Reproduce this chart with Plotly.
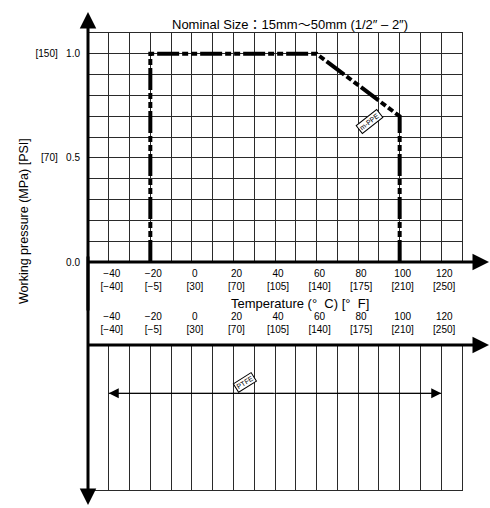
import plotly.graph_objects as go

# ---- data ----
pp_temp = [-20, -20, 60, 100, 100]          # °C
pp_pressure = [0.0, 1.0, 1.0, 0.7, 0.0]     # MPa
ptfe_temp = [-40, 120]                      # °C range
ptfe_level = 2
x_tickvals = [-40, -20, 0, 20, 40, 60, 80, 100, 120]
x_ticktext = ["−40<br>[−40]", "−20<br>[−5]", "0<br>[30]", "20<br>[70]", "40<br>[105]",
              "60<br>[140]", "80<br>[175]", "100<br>[210]", "120<br>[250]"]
y_tickvals = [0.0, 0.5, 1.0]
y_ticktext = ["0.0", "[70]\u00a0\u00a0\u00a00.5", "[150]\u00a0\u00a0\u00a01.0"]

W, H = 490, 508
FONT = "Liberation Sans, Arial, Noto Sans CJK JP, sans-serif"
GRID = "#2a2a2a"

def px_x(p):
    return p / W

def px_y(p):
    return (H - p) / H

fig = go.Figure()

fig.add_trace(go.Scatter(
    x=pp_temp, y=pp_pressure, mode="lines",
    line=dict(color="black", width=4, dash="22px,3px,6px,3px,6px,3px"),
    xaxis="x", yaxis="y", hoverinfo="skip"))

fig.add_trace(go.Scatter(
    x=ptfe_temp, y=[ptfe_level, ptfe_level], mode="lines",
    line=dict(color="black", width=1),
    xaxis="x2", yaxis="y2", hoverinfo="skip"))

xdom = [px_x(88), px_x(462)]
common_x = dict(range=[-50, 130], domain=xdom, showgrid=True, gridcolor=GRID, gridwidth=1,
                zeroline=False, showline=True, mirror=True, linecolor=GRID, linewidth=1,
                tickmode="array", tickvals=x_tickvals, ticktext=x_ticktext, ticks="",
                tickfont=dict(family=FONT, size=10, color="black"),
                minor=dict(dtick=10, tick0=-50, showgrid=True, gridcolor=GRID, gridwidth=1),
                automargin=False, fixedrange=True)

fig.update_layout(
    width=W, height=H, margin=dict(l=0, r=0, t=0, b=0, pad=0),
    paper_bgcolor="white", plot_bgcolor="white", showlegend=False,
    xaxis=dict(**common_x, anchor="y", side="bottom", ticklabelstandoff=2, ticklabelshift=3),
    yaxis=dict(range=[0, 1.1], domain=[px_y(262), px_y(33)], anchor="x",
               showgrid=True, gridcolor=GRID, gridwidth=1, zeroline=False,
               showline=True, mirror=True, linecolor=GRID, linewidth=1,
               tickmode="array", tickvals=y_tickvals, ticktext=y_ticktext, ticks="",
               tickfont=dict(family=FONT, size=10, color="black"),
               minor=dict(dtick=0.1, tick0=0, showgrid=True, gridcolor=GRID, gridwidth=1),
               ticklabelstandoff=5, automargin=False, fixedrange=True),
    xaxis2=dict(**common_x, anchor="y2", side="top", ticklabelstandoff=7, ticklabelshift=3),
    yaxis2=dict(range=[0, 3], domain=[px_y(490), px_y(345)], anchor="x2",
                showgrid=False, zeroline=False, showline=True, mirror=True,
                linecolor=GRID, linewidth=1, showticklabels=False, ticks="",
                automargin=False, fixedrange=True),
)

ann = []
# title
ann.append(dict(text="Nominal Size：15mm～50mm (1/2″ – 2″)", xref="paper", yref="paper",
                x=px_x(290), y=px_y(15), showarrow=False,
                font=dict(family=FONT, size=13, color="black")))
# y title
ann.append(dict(text="Working pressure (MPa) [PSI]", xref="paper", yref="paper",
                x=px_x(15), y=px_y(136), showarrow=False, textangle=-90,
                font=dict(family=FONT, size=12.5, color="black")))
# x title
ann.append(dict(text="Temperature (°\u00a0\u00a0C) [°\u00a0\u00a0F]", xref="paper", yref="paper",
                x=px_x(300), y=px_y(303), showarrow=False,
                font=dict(family=FONT, size=13, color="black")))

# axis arrows (thick black)
arrow_style = dict(showarrow=True, arrowhead=2, arrowsize=1.1, arrowwidth=3,
                   arrowcolor="black", text="")
# vertical axis up / down
ann.append(dict(xref="x", yref="paper", x=-50, y=px_y(12), ax=0, ay=300, **arrow_style))
ann.append(dict(xref="x", yref="paper", x=-50, y=px_y(505), ax=0, ay=-250, **arrow_style))
# upper x axis
ann.append(dict(xref="paper", yref="y", x=px_x(489), y=0, ax=-(489 - 87), ay=0, **arrow_style))
# lower x axis
ann.append(dict(xref="paper", yref="paper", x=px_x(489), y=px_y(345), ax=-(489 - 87), ay=0,
                **arrow_style))

# PTFE range arrows
thin = dict(showarrow=True, arrowhead=2, arrowsize=2, arrowwidth=1, arrowcolor="black", text="",
            xref="x2", yref="y2", axref="x2", ayref="y2")
mid = sum(ptfe_temp) / 2
ann.append(dict(x=ptfe_temp[0], y=ptfe_level, ax=mid, ay=ptfe_level, **thin))
ann.append(dict(x=ptfe_temp[1], y=ptfe_level, ax=mid, ay=ptfe_level, **thin))

# labels
ann.append(dict(text="m-PPE", xref="x", yref="y", x=85.5, y=0.675, showarrow=False,
                textangle=-38, bgcolor="white", bordercolor="black", borderwidth=1, borderpad=1,
                font=dict(family=FONT, size=7, color="black")))
ann.append(dict(text="PTFE", xref="x2", yref="y2", x=25.5, y=2.22, showarrow=False,
                textangle=-32, bgcolor="white", bordercolor="black", borderwidth=1, borderpad=1,
                font=dict(family=FONT, size=7, color="black")))

fig.update_layout(annotations=ann)

fig.write_html("out.html", config={"displayModeBar": False, "staticPlot": True},
               post_script="document.body.style.margin='0';document.body.style.overflow='hidden';")
